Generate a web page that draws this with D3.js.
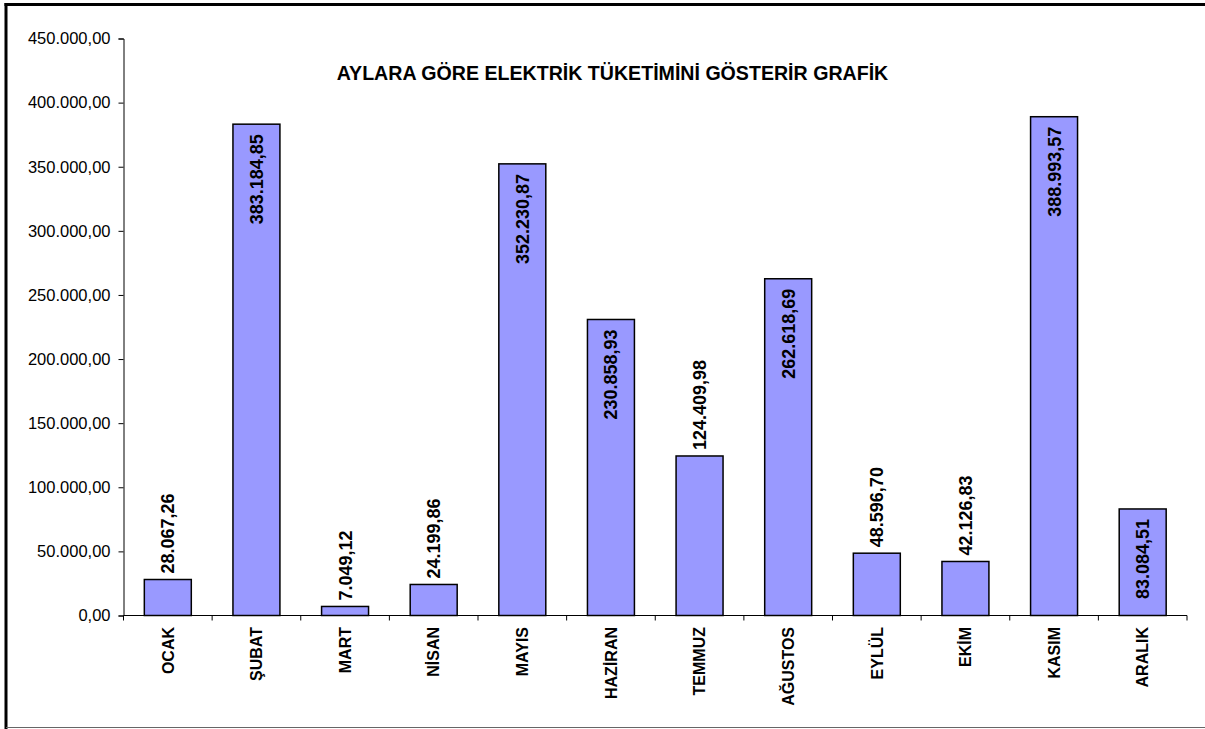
<!DOCTYPE html>
<html>
<head>
<meta charset="utf-8">
<title>Aylara Göre Elektrik Tüketimi</title>
<style>
  body { margin: 0; background: #fff; }
  svg { display: block; font-family: Arial, "Liberation Sans", sans-serif; }
  .bar { fill: #9999ff; stroke: #000; stroke-width: 1.5; }
  .axis path, .axis line { stroke: #000; stroke-width: 1; }
  .axis text { fill: #000; }
</style>
</head>
<body>
<script src="https://d3js.org/d3.v7.min.js"></script>
<script>

// Data
var months = ["OCAK", "ŞUBAT", "MART", "NİSAN", "MAYIS", "HAZİRAN",
              "TEMMUZ", "AĞUSTOS", "EYLÜL", "EKİM", "KASIM", "ARALIK"];
var consumption = [28067.26, 383184.85, 7049.12, 24199.86, 352230.87, 230858.93,
                   124409.98, 262618.69, 48596.70, 42126.83, 388993.57, 83084.51];
var yTicks = [0, 50000, 100000, 150000, 200000, 250000, 300000, 350000, 400000, 450000];
var title = "AYLARA GÖRE ELEKTRİK TÜKETİMİNİ GÖSTERİR GRAFİK";

// months whose value label sits inside the bar (as in the original sheet)
var labelInside = ["ŞUBAT", "MAYIS", "HAZİRAN", "AĞUSTOS", "KASIM", "ARALIK"];

var data = months.map(function(m, i) { return {name: m, value: consumption[i]}; });

var width = 1205, height = 729;

// Turkish number format: 450.000,00
var tr = d3.formatLocale({decimal: ",", thousands: ".", grouping: [3], currency: ["", " TL"]});
var fmt = tr.format(",.2f");

var svg = d3.select("body").append("svg")
    .attr("width", width)
    .attr("height", height);

// chart area frame
svg.append("line").attr("x1", 6).attr("y1", 3).attr("x2", 6).attr("y2", 729)
    .attr("stroke", "#000").attr("stroke-width", 3);
svg.append("line").attr("x1", 4.5).attr("y1", 4.5).attr("x2", width).attr("y2", 4.5)
    .attr("stroke", "#000").attr("stroke-width", 3);
svg.append("line").attr("x1", 6).attr("y1", 727.5).attr("x2", width).attr("y2", 727.5)
    .attr("stroke", "#666").attr("stroke-width", 1);

// Scales
var x = d3.scaleBand()
    .domain(months)
    .range([123.5, 1187])
    .paddingInner(0.47)
    .paddingOuter(0.235);

var y = d3.scaleLinear()
    .domain([0, 450000])
    .range([615.5, 38.5]);

// Bars
svg.selectAll(".bar")
    .data(data)
  .enter().append("rect")
    .attr("class", "bar")
    .attr("x", function(d) { return x(d.name); })
    .attr("width", x.bandwidth())
    .attr("y", function(d) { return y(d.value); })
    .attr("height", function(d) { return y(0) - y(d.value); });

// y axis
var yAxis = svg.append("g")
    .attr("class", "axis")
    .attr("transform", "translate(123.5,0)")
    .call(d3.axisLeft(y).tickValues(yTicks).tickFormat(fmt).tickSize(5).tickPadding(8));
yAxis.selectAll("text").style("font-size", "16.5px");

// x axis, ticks between categories
var xAxis = svg.append("g")
    .attr("class", "axis")
    .attr("transform", "translate(0,615.5)");
xAxis.append("line")
    .attr("x1", 123.5).attr("x2", 1187)
    .attr("stroke", "#000");
xAxis.selectAll(".sep")
    .data(months)
  .enter().append("line")
    .attr("class", "sep")
    .attr("x1", function(d) { return x(d) - x.step() * 0.235; })
    .attr("x2", function(d) { return x(d) - x.step() * 0.235; })
    .attr("y1", 0).attr("y2", 5)
    .attr("stroke", "#000");
xAxis.append("line")
    .attr("x1", 1187).attr("x2", 1187).attr("y1", 0).attr("y2", 5)
    .attr("stroke", "#000");
xAxis.selectAll(".cat")
    .data(months)
  .enter().append("text")
    .attr("class", "cat")
    .attr("transform", function(d) {
      return "translate(" + (x(d) + x.bandwidth() / 2) + ",11.5)rotate(-90)";
    })
    .attr("dy", "0.36em")
    .style("text-anchor", "end")
    .style("font-size", "16px")
    .style("font-weight", "bold")
    .text(function(d) { return d; });

// Value labels
svg.selectAll(".val")
    .data(data)
  .enter().append("text")
    .attr("class", "val")
    .attr("transform", function(d) {
      var inside = labelInside.indexOf(d.name) >= 0;
      var ty = inside ? y(d.value) + 10 : y(d.value) - 6;
      return "translate(" + (x(d.name) + x.bandwidth() / 2) + "," + ty + ")rotate(-90)";
    })
    .attr("dy", "0.36em")
    .style("text-anchor", function(d) { return labelInside.indexOf(d.name) >= 0 ? "end" : "start"; })
    .style("font-size", "18px")
    .style("font-weight", "bold")
    .text(function(d) { return fmt(d.value); });

// Title
svg.append("text")
    .attr("x", 612.5)
    .attr("y", 80)
    .style("text-anchor", "middle")
    .style("font-size", "19.6px")
    .style("font-weight", "bold")
    .text(title);

</script>
</body>
</html>
